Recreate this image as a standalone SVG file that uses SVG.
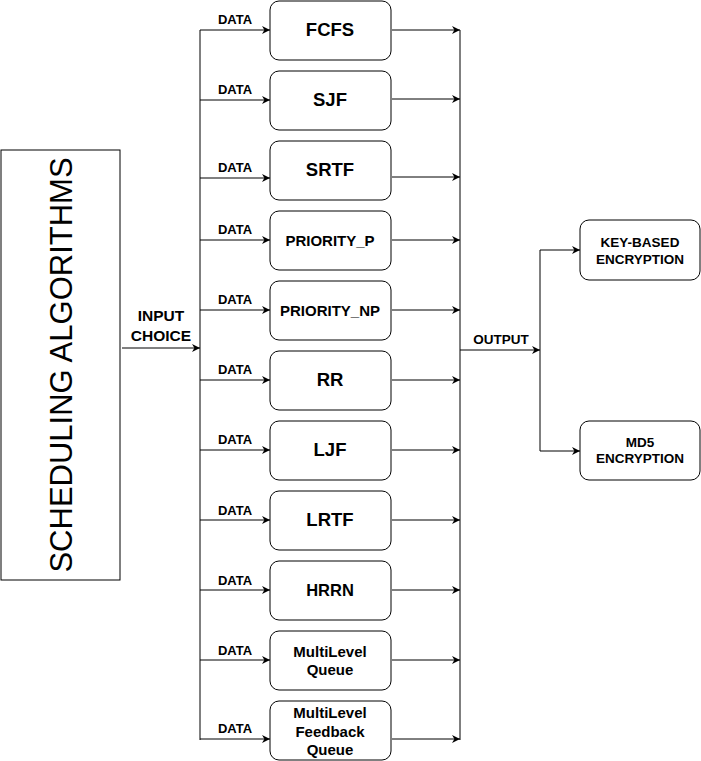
<svg xmlns="http://www.w3.org/2000/svg" width="701" height="761" viewBox="0 0 701 761">
<defs>
<marker id="ar" viewBox="0 0 10 10" refX="10" refY="5" markerWidth="8" markerHeight="8" markerUnits="userSpaceOnUse" orient="auto"><path d="M0,0 L10,5 L0,10 L3,5 Z" fill="#000"/></marker>
</defs>
<style>
.box{fill:#fff;stroke:#000;stroke-width:1}
.ln{fill:none;stroke:#000;stroke-width:1}
.ar{fill:none;stroke:#000;stroke-width:1;marker-end:url(#ar)}
text{font-family:"Liberation Sans",Arial,sans-serif;fill:#000;text-anchor:middle}
.big{font-size:18.5px;font-weight:bold}
.mid{font-size:15px;font-weight:bold}
.lbl{font-size:13px;font-weight:bold}
.enc{font-size:13.5px;font-weight:bold}
</style>
<rect width="701" height="761" fill="#fff"/>
<g id="scheduling">
<rect x="1" y="150" width="119" height="430" fill="#fff" stroke="#000"/>
<text transform="translate(72,365) rotate(-90)" font-size="31">SCHEDULING ALGORITHMS</text>
</g>
<g id="connectors">
<path class="ln" d="M200,30 V740"/>
<path class="ln" d="M460,30 V740"/>
<path class="ar" d="M122,348 H200"/>
<path class="ar" d="M200,30 H270"/><path class="ar" d="M200,100 H270"/><path class="ar" d="M200,178 H270"/><path class="ar" d="M200,240 H270"/><path class="ar" d="M200,310 H270"/><path class="ar" d="M200,380 H270"/><path class="ar" d="M200,450 H270"/><path class="ar" d="M200,520 H270"/><path class="ar" d="M200,590 H270"/><path class="ar" d="M200,660 H270"/><path class="ar" d="M200,739 H270"/>
<path class="ar" d="M392,30 H460"/><path class="ar" d="M392,99 H460"/><path class="ar" d="M392,177 H460"/><path class="ar" d="M392,240 H460"/><path class="ar" d="M392,310 H460"/><path class="ar" d="M392,380 H460"/><path class="ar" d="M392,450 H460"/><path class="ar" d="M392,520 H460"/><path class="ar" d="M392,590 H460"/><path class="ar" d="M392,660 H460"/><path class="ar" d="M392,739 H460"/>
<path class="ar" d="M460,350 H540"/>
<path class="ar" d="M540,350 V250 H580"/>
<path class="ar" d="M540,350 V451 H580"/>
<g class="lbl">
<text x="235" y="24">DATA</text><text x="235" y="94">DATA</text><text x="235" y="172">DATA</text><text x="235" y="234">DATA</text><text x="235" y="304">DATA</text><text x="235" y="374">DATA</text><text x="235" y="444">DATA</text><text x="235" y="515">DATA</text><text x="235" y="585">DATA</text><text x="235" y="655">DATA</text><text x="235" y="733">DATA</text>
</g>
<text class="enc" x="501" y="344">OUTPUT</text>
<text x="161" y="321" font-size="15.5" font-weight="bold">INPUT</text>
<text x="161" y="341" font-size="15.5" font-weight="bold">CHOICE</text>
</g>
<g id="fcfs"><rect class="box" x="270" y="1" width="121" height="59" rx="9"/><text class="big" x="330" y="36">FCFS</text></g>
<g id="sjf"><rect class="box" x="270" y="71" width="121" height="59" rx="9"/><text class="big" x="330" y="106">SJF</text></g>
<g id="srtf"><rect class="box" x="270" y="141" width="121" height="59" rx="9"/><text class="big" x="330" y="176">SRTF</text></g>
<g id="priority_p"><rect class="box" x="270" y="211" width="121" height="59" rx="9"/><text class="mid" x="330" y="246">PRIORITY_P</text></g>
<g id="priority_np"><rect class="box" x="270" y="281" width="121" height="59" rx="9"/><text class="mid" x="330" y="316">PRIORITY_NP</text></g>
<g id="rr"><rect class="box" x="270" y="351" width="121" height="59" rx="9"/><text class="big" x="330" y="386">RR</text></g>
<g id="ljf"><rect class="box" x="270" y="421" width="121" height="59" rx="9"/><text class="big" x="330" y="456">LJF</text></g>
<g id="lrtf"><rect class="box" x="270" y="491" width="121" height="59" rx="9"/><text class="big" x="330" y="526">LRTF</text></g>
<g id="hrrn"><rect class="box" x="270" y="561" width="121" height="59" rx="9"/><text x="330" y="596" font-size="16.5" font-weight="bold">HRRN</text></g>
<g id="mlq"><rect class="box" x="270" y="631" width="121" height="59" rx="9"/><text class="mid" x="330" y="657">MultiLevel</text><text class="mid" x="330" y="675">Queue</text></g>
<g id="mlfq"><rect class="box" x="270" y="701" width="121" height="59" rx="9"/><text class="mid" x="330" y="718">MultiLevel</text><text class="mid" x="330" y="737">Feedback</text><text class="mid" x="330" y="755">Queue</text></g>
<g id="keybased"><rect class="box" x="580" y="220" width="120" height="60" rx="9"/><text class="enc" x="640" y="247">KEY-BASED</text><text class="enc" x="640" y="264">ENCRYPTION</text></g>
<g id="md5"><rect class="box" x="580" y="421" width="120" height="59" rx="9"/><text class="enc" x="640" y="447">MD5</text><text class="enc" x="640" y="463">ENCRYPTION</text></g>
</svg>
